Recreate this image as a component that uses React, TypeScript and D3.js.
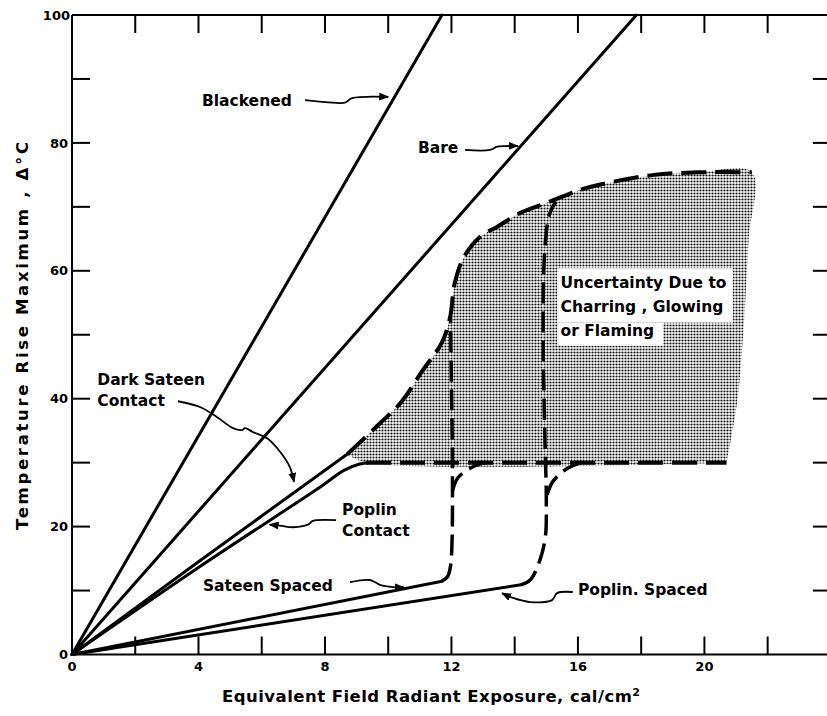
import React from "react";
import * as d3 from "d3";

// exposure (cal/cm2) vs temperature rise (deg C)
const blackened: [number, number][] = [[0, 0], [11.7, 100]];
const bare: [number, number][] = [[0, 0], [17.85, 100]];
const darkSateenContact: [number, number][] = [[0, 0], [4, 14.5], [8.7, 31.3]];
const poplinContact: [number, number][] = [[0, 0], [4, 13.6], [7.85, 26.2], [8.6, 28.8], [9.1, 29.8], [9.4, 30]];
const sateenSpaced: [number, number][] = [[0, 0], [11.7, 11.45]];
const poplinSpaced: [number, number][] = [[0, 0], [14.2, 10.9]];

// dashed continuations
const upperBound: [number, number][] = [
  [8.7, 31.3], [9.75, 36.2], [10.4, 39.4], [11.1, 44.5], [11.7, 48.8], [11.96, 52.8],
  [12.1, 58], [12.4, 62.2], [12.9, 65.3], [13.45, 66.9], [14.2, 69.1], [15.0, 70.6],
  [16.1, 72.7], [17.1, 73.9], [18.4, 75], [19.8, 75.4], [21.5, 75.4],
];
const rightEdge: [number, number][] = [[21.5, 75.4], [21.4, 65], [21.25, 52], [21.05, 40], [20.7, 30]];
const lowerBound: [number, number][] = [[9.3, 30], [20.7, 30]];
const sateenRise: [number, number][] = [
  [11.7, 11.45], [11.88, 12.2], [11.97, 13.8], [12.02, 18], [12.03, 30], [12.0, 42], [11.97, 52.8],
];
const sateenBranch: [number, number][] = [[12.03, 25.5], [12.2, 27.6], [12.7, 29.4], [13.1, 30]];
const poplinRise: [number, number][] = [
  [14.2, 10.9], [14.5, 11.7], [14.8, 14.8], [14.97, 18.4], [15.0, 24], [14.95, 35],
  [14.9, 50], [14.95, 63], [15.1, 68.8], [15.3, 70.8],
];
const poplinBranch: [number, number][] = [[15.03, 25], [15.2, 27], [15.6, 28.9], [16.1, 30]];

const xTickLabels = [0, 4, 8, 12, 16, 20];
const yTickLabels = [0, 20, 40, 60, 80, 100];
const xMinorTicks = d3.range(2, 24, 2);
const yMinorTicks = d3.range(10, 100, 10);

// annotations (text position in data units, leader points in data units)
const labels = [
  { lines: ["Blackened"], x: 4.11, y: 85.8 },
  { lines: ["Bare"], x: 10.94, y: 78.4 },
  { lines: ["Dark Sateen", "Contact"], x: 0.8, y: 42.2 },
  { lines: ["Poplin", "Contact"], x: 8.54, y: 21.8 },
  { lines: ["Sateen Spaced"], x: 4.14, y: 9.9 },
  { lines: ["Poplin. Spaced"], x: 16.0, y: 9.3 },
];
const leaders: [number, number][][] = [
  [[7.37, 86.7], [8.25, 86.3], [8.63, 86.3], [8.86, 87.0], [10.0, 87.2]],
  [[12.43, 78.9], [13.22, 78.9], [13.44, 79.4], [13.69, 79.5], [14.1, 79.5]],
  [[3.35, 39.6], [4.05, 38.7], [4.59, 37.1], [5.09, 35.4], [5.38, 35.1], [5.47, 35.4], [5.72, 34.8], [6.17, 33.8], [6.58, 31.7], [6.89, 29.3], [7.02, 27.0]],
  [[8.35, 21.0], [7.62, 20.9], [7.46, 20.3], [6.99, 19.9], [6.64, 20.1], [6.25, 20.3]],
  [[8.79, 11.3], [9.42, 11.65], [9.74, 10.9], [10.15, 10.55], [10.5, 10.5]],
  [[15.84, 9.77], [15.34, 9.6], [15.18, 8.5], [14.48, 8.2], [13.95, 8.84], [13.6, 9.6]],
];
const noteLines = ["Uncertainty Due to", "Charring , Glowing", "or Flaming"];

const W = 827;
const H = 716;
const FONT = "'DejaVu Sans', sans-serif";

export default function App() {
  const x = d3.scaleLinear().domain([0, 24]).range([72, 830.9]);
  const y = d3.scaleLinear().domain([0, 100]).range([654.5, 15]);

  const line = d3.line<[number, number]>().x((d) => x(d[0])).y((d) => y(d[1]));
  const smooth = d3
    .line<[number, number]>()
    .x((d) => x(d[0]))
    .y((d) => y(d[1]))
    .curve(d3.curveCatmullRom.alpha(0.5));

  const shade = [...upperBound, ...rightEdge.slice(1), ...lowerBound.slice().reverse(), upperBound[0]];

  const solidStyle = { fill: "none", stroke: "#000", strokeWidth: 3, strokeLinecap: "round" as const };
  const dashStyle = { fill: "none", stroke: "#000", strokeWidth: 4, strokeDasharray: "25 9" };
  const dashThin = { fill: "none", stroke: "#000", strokeWidth: 3.5, strokeDasharray: "21 8" };

  const x0 = x(0);
  const x1 = x(24);
  const y0 = y(0);
  const y1 = y(100);

  return (
    <svg width={W} height={H} style={{ position: "absolute", left: 0, top: 0, background: "#fff" }}>
      <defs>
        <pattern id="dots" width="3" height="3" patternUnits="userSpaceOnUse">
          <rect width="3" height="3" fill="#fff" />
          <circle cx="1.5" cy="1.5" r="1.1" fill="#111" />
        </pattern>
        <marker id="arr" viewBox="0 0 10 8" refX="9" refY="4" markerWidth="10" markerHeight="8" markerUnits="userSpaceOnUse" orient="auto">
          <path d="M0,0 L10,4 L0,8 Z" fill="#000" />
        </marker>
      </defs>

      {/* shaded uncertainty region */}
      <path d={smooth(shade) ?? ""} fill="url(#dots)" stroke="none" />

      {/* frame */}
      <g stroke="#000" strokeWidth={2} fill="none">
        <line x1={x0} y1={y0} x2={x0} y2={y1} />
        <line x1={x0} y1={y0} x2={x1} y2={y0} />
        <line x1={x0} y1={y1} x2={x1} y2={y1} />
        <line x1={x1} y1={y0} x2={x1} y2={y1} />
        {yMinorTicks.map((v) => (
          <line key={"l" + v} x1={x0} x2={x0 + 18} y1={y(v)} y2={y(v)} />
        ))}
        {yMinorTicks.map((v) => (
          <line key={"r" + v} x1={x1 - 18} x2={x1} y1={y(v)} y2={y(v)} />
        ))}
        {xMinorTicks.map((v) => (
          <line key={"b" + v} x1={x(v)} x2={x(v)} y1={y0} y2={y0 - 18} />
        ))}
        {xMinorTicks.map((v) => (
          <line key={"t" + v} x1={x(v)} x2={x(v)} y1={y1} y2={y1 + 18} />
        ))}
      </g>

      {/* tick labels */}
      <g fontFamily={FONT} fontWeight="bold" fontSize={13} fill="#000">
        {xTickLabels.map((v) => (
          <text key={v} x={x(v)} y={671} textAnchor="middle">{v}</text>
        ))}
        {yTickLabels.map((v) => (
          <text key={v} x={v === 100 ? 70 : 68} y={y(v)} dy="0.36em" textAnchor="end">{v}</text>
        ))}
      </g>

      {/* axis titles */}
      <text x={431} y={702} textAnchor="middle" fontFamily={FONT} fontWeight="bold" fontSize={16.5} textLength={418} lengthAdjust="spacing">
        Equivalent  Field Radiant Exposure, cal/cm<tspan dy={-6} fontSize={11}>2</tspan>
      </text>
      <text transform={`translate(28,${336}) rotate(-90)`} textAnchor="middle" fontFamily={FONT} fontWeight="bold" fontSize={16.5} textLength={388} lengthAdjust="spacing">
        Temperature  Rise Maximum  ,  Δ°C
      </text>

      {/* solid curves */}
      <path d={line(blackened) ?? ""} {...solidStyle} />
      <path d={line(bare) ?? ""} {...solidStyle} />
      <path d={smooth(darkSateenContact) ?? ""} {...solidStyle} />
      <path d={smooth(poplinContact) ?? ""} {...solidStyle} />
      <path d={line(sateenSpaced) ?? ""} {...solidStyle} />
      <path d={line(poplinSpaced) ?? ""} {...solidStyle} />

      {/* dashed curves */}
      <path d={smooth(upperBound) ?? ""} {...dashStyle} />
      <path d={line(lowerBound) ?? ""} {...dashStyle} />
      <path d={smooth(sateenRise) ?? ""} {...dashThin} />
      <path d={smooth(sateenBranch) ?? ""} {...dashThin} />
      <path d={smooth(poplinRise) ?? ""} {...dashThin} />
      <path d={smooth(poplinBranch) ?? ""} {...dashThin} />

      {/* note box */}
      <rect x={x(15.35)} y={y(60.4)} width={x(20.9) - x(15.35)} height={y(51.9) - y(60.4)} fill="#fff" />
      <rect x={x(15.35)} y={y(51.9)} width={x(18.7) - x(15.35)} height={y(48.3) - y(51.9)} fill="#fff" />
      <g fontFamily={FONT} fontWeight="bold" fontSize={15.5} fill="#000">
        {noteLines.map((t, i) => (
          <text key={t} x={x(15.45)} y={y(57.3) + i * 24}>{t}</text>
        ))}
      </g>

      {/* labels and leaders */}
      <g fontFamily={FONT} fontWeight="bold" fontSize={15.5} fill="#000">
        {labels.map((l) =>
          l.lines.map((t, i) => (
            <text key={t + i + l.x} x={x(l.x)} y={y(l.y) + i * 21}>{t}</text>
          ))
        )}
      </g>
      {leaders.map((p, i) => (
        <path key={i} d={smooth(p) ?? ""} fill="none" stroke="#000" strokeWidth={1.8} markerEnd="url(#arr)" />
      ))}
    </svg>
  );
}
